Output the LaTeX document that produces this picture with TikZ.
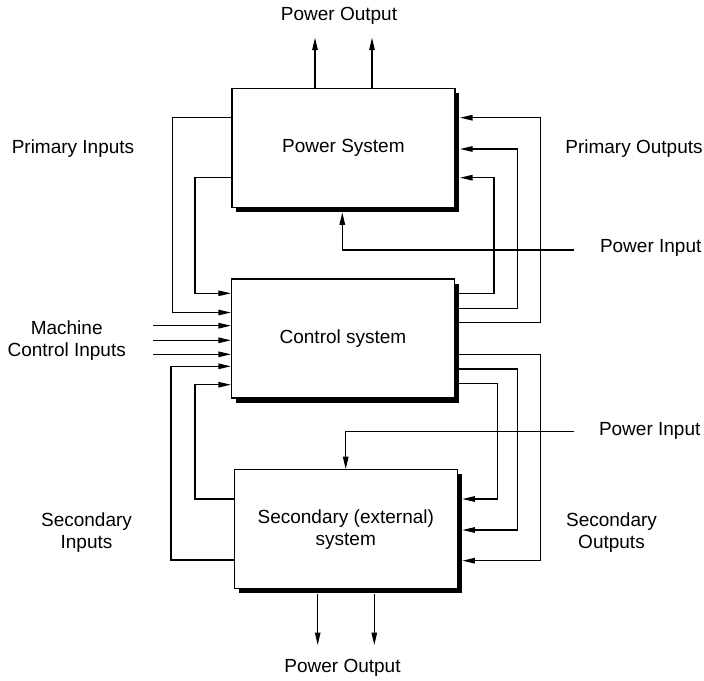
\documentclass[tikz,border=0pt]{standalone}
\usepackage{fontspec}
\setmainfont{Liberation Sans}
\usepackage{tikz}
\usetikzlibrary{positioning,calc,shadows}
\usetikzlibrary{arrows.meta}
\tikzset{
  sys/.style={draw=black,fill=white,line width=1.2pt,minimum width=223pt,minimum height=119pt,align=center,
    drop shadow={shadow xshift=4.5pt,shadow yshift=-4.5pt,fill=black,opacity=1}},
  wire/.style={draw=black,line width=1.2pt},
  arr/.style={wire,-{Triangle[length=12.5pt,width=5.5pt]}},
}
\tikzset{lbl/.style={align=center,inner sep=0pt}}

\begin{document}
\begin{tikzpicture}[x=1pt,y=-1pt,font=\fontsize{19pt}{22pt}\selectfont]
\useasboundingbox (0,0) rectangle (704,680);
\node[sys] (ps) at (343.4,147.8) {Power System};
\node[sys] (cs) at (343,338.5) {Control system};
\node[sys] (ss) at (345.8,529.2) {Secondary (external)\\system};
\coordinate (psr) at ($(ps.east)+(4.5,0)$);
\coordinate (psb) at ($(ps.south)+(0,4.5)$);
\coordinate (ssr) at ($(ss.east)+(4.5,0)$);
\coordinate (ssb) at ($(ss.south)+(0,4.5)$);
\node[lbl] (pouttop) at (339,15.8) {Power Output};
\node[lbl] (poutbot) at (342.5,668.3) {Power Output};
\node[lbl] (prin) at (73,149) {Primary Inputs};
\node[lbl] (prout) at (634,148.3) {Primary Outputs};
\node[lbl] (pwrina) at (650.7,247.8) {Power Input};
\node[lbl] (pwrinb) at (649.7,430.8) {Power Input};
\node[lbl] (mcin) at (66.7,340.5) {Machine\\Control Inputs};
\node[lbl] (secin) at (86.5,533) {Secondary\\Inputs};
\node[lbl] (secout) at (611.5,533) {Secondary\\Outputs};
\coordinate (pa) at (574,250);
\coordinate (pb) at (574,431.7);
\coordinate (ma) at (153.3,325.7);
\coordinate (mb) at (153.3,340.3);
\coordinate (mc) at (153.3,354.3);
\coordinate (toa) at (315,37.7);
\coordinate (tob) at (372,37.7);
\coordinate (boa) at (317.7,645);
\coordinate (bob) at (374.3,645);
% power outputs
\draw[arr] (ps.north -| toa) -- (toa);
\draw[arr] (ps.north -| tob) -- (tob);
\draw[arr] (ssb -| boa) -- (boa);
\draw[arr] (ssb -| bob) -- (bob);
% power inputs
\draw[arr] (pa) -| (psb -| 342.3,0);
\draw[arr] (pb) -| (ss.north -| 345.7,0);
% primary and secondary inputs
\draw[arr] (ps.west |- 0,117.7) -- (172.3,117.7) |- (cs.west |- 0,312.5);
\draw[arr] (ps.west |- 0,177.7) -- (195,177.7) |- (cs.west |- 0,293.3);
\draw[arr] (ma) -- (cs.west |- ma);
\draw[arr] (mb) -- (cs.west |- mb);
\draw[arr] (mc) -- (cs.west |- mc);
\draw[arr] (ss.west |- 0,560) -- (171,560) |- (cs.west |- 0,366.3);
\draw[arr] (ss.west |- 0,499) -- (195,499) |- (cs.west |- 0,384.7);
% primary and secondary outputs
\draw[arr] (cs.east |- 0,293.3) -- (494,293.3) |- (psr |- 0,177.7);
\draw[arr] (cs.east |- 0,308.3) -- (517.3,308.3) |- (psr |- 0,149);
\draw[arr] (cs.east |- 0,322.7) -- (540.7,322.7) |- (psr |- 0,117.7);
\draw[arr] (cs.east |- 0,354.7) -- (540.7,354.7) |- (ssr |- 0,560.7);
\draw[arr] (cs.east |- 0,369) -- (517.3,369) |- (ssr |- 0,530);
\draw[arr] (cs.east |- 0,383.7) -- (497.3,383.7) |- (ssr |- 0,499);
\end{tikzpicture}
\end{document}
